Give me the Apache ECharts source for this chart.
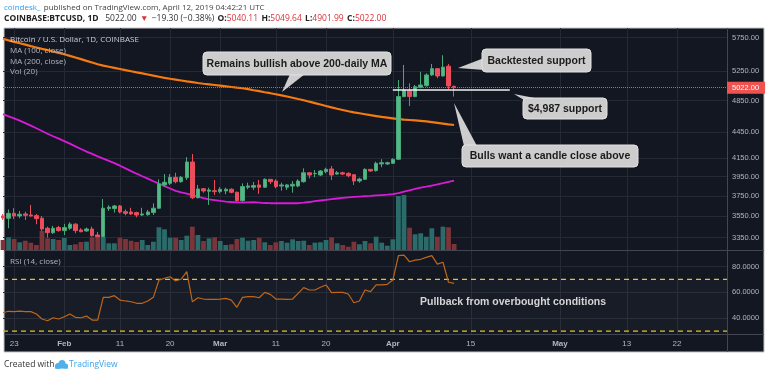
<!DOCTYPE html>
<html>
<head>
<meta charset="utf-8">
<script src="https://cdn.jsdelivr.net/npm/echarts@6/dist/echarts.min.js"></script>
<style>
html, body { margin: 0; padding: 0; background: #fff; }
#chart { width: 768px; height: 376px; }
</style>
</head>
<body>
<div id="chart"></div>
<script>
// daily candles, Jan 21 .. Apr 12 2019 (COINBASE:BTCUSD)
var firstDay = '2019-01-21';
var lastDay = '2019-05-31';
var opens = [3552, 3530, 3577, 3552, 3571, 3561, 3555, 3530, 3436, 3395, 3442, 3414, 3436, 3474, 3420, 3411, 3429, 3374, 3359, 3623,
    3623, 3649, 3593, 3590, 3584, 3561, 3564, 3584, 3627, 3862, 3879, 3942, 3896, 3938, 4109, 3731, 3823, 3797, 3803, 3793,
    3800, 3817, 3786, 3701, 3838, 3838, 3862, 3838, 3921, 3903, 3851, 3838, 3851, 3851, 3896, 3991, 3981, 3967, 4003, 4032,
    3977, 3991, 3985, 3970, 3903, 3921, 4028, 4014, 4087, 4087, 4094, 4139, 4902, 4981, 4902, 5026, 5049, 5197, 5286, 5183,
    5321, 5040.11];
var closes = [3533, 3577, 3552, 3568, 3558, 3552, 3526, 3429, 3395, 3436, 3414, 3442, 3474, 3414, 3404, 3429, 3368, 3359, 3627, 3637,
    3649, 3590, 3577, 3571, 3561, 3571, 3590, 3627, 3872, 3890, 3942, 3896, 3942, 4109, 3731, 3820, 3800, 3810, 3793, 3817,
    3817, 3786, 3701, 3845, 3851, 3855, 3838, 3921, 3896, 3845, 3862, 3862, 3869, 3903, 3991, 3967, 3985, 4010, 4028, 3967,
    3991, 3977, 3960, 3903, 3924, 4028, 4010, 4094, 4101, 4101, 4139, 4902, 4990, 4902, 5035, 5058, 5197, 5286, 5183, 5308,
    5045, 5022.00];
var lows = [3514, 3436, 3523, 3530, 3514, 3545, 3474, 3411, 3350, 3383, 3404, 3374, 3420, 3390, 3399, 3404, 3359, 3353, 3356, 3600,
    3584, 3577, 3558, 3561, 3539, 3552, 3555, 3561, 3620, 3844, 3862, 3879, 3886, 3914, 3718, 3725, 3782, 3659, 3759, 3776,
    3766, 3776, 3691, 3691, 3817, 3810, 3769, 3834, 3872, 3827, 3803, 3810, 3782, 3838, 3886, 3931, 3942, 3956, 3985, 3914,
    3970, 3967, 3942, 3862, 3886, 3914, 4003, 4003, 4051, 4076, 4087, 4131, 4894, 4778, 4894, 5013, 5035, 5183, 5152, 5174,
    5000, 4901.99];
var highs = [3571, 3615, 3627, 3600, 3593, 3659, 3571, 3552, 3451, 3458, 3458, 3477, 3492, 3483, 3436, 3442, 3451, 3402, 3718, 3656,
    3659, 3659, 3615, 3631, 3593, 3631, 3610, 3676, 3921, 3977, 3977, 3991, 3956, 4163, 4198, 3862, 3830, 3833, 3914, 3838,
    3833, 3827, 3793, 3879, 3886, 3893, 3914, 3931, 3924, 3921, 3886, 3872, 3903, 3921, 4039, 3995, 4021, 4021, 4046, 4065,
    4010, 4003, 3995, 3977, 3938, 4039, 4032, 4112, 4139, 4112, 4150, 5127, 5339, 5081, 5058, 5242, 5220, 5354, 5294, 5480,
    5354, 5049.64];
var volumes = [10000, 12700, 11000, 7700, 9300, 7300, 5000, 19000, 11700, 11000, 10000, 12000, 5000, 5700, 8000, 8300, 12700, 15000, 13000, 6700,
    6700, 12300, 11000, 9300, 8000, 10000, 5000, 8300, 22700, 20700, 12300, 12300, 10000, 14300, 23300, 15000, 9000, 11700, 12700, 9000,
    5000, 5700, 11000, 12300, 9300, 10000, 12300, 7700, 5000, 7700, 9000, 7300, 10700, 9000, 9300, 5000, 7300, 7700, 10000, 12700,
    6700, 5000, 3300, 8300, 5700, 9000, 6700, 13300, 7300, 4300, 10700, 54000, 55000, 22300, 15700, 16700, 13300, 21700, 13300, 23300,
    22700, 6000];
// MA (200, close) - orange
var ma200 = [5730, 5705, 5683, 5662, 5640, 5617, 5597, 5576, 5556, 5536, 5515, 5495, 5472, 5448, 5423, 5398, 5374, 5349, 5329, 5313,
    5297, 5281, 5264, 5249, 5233, 5218, 5203, 5187, 5172, 5157, 5144, 5132, 5120, 5108, 5097, 5085, 5075, 5067, 5058, 5049,
    5040, 5031, 5022, 5014, 5001, 4987, 4974, 4960, 4947, 4933, 4918, 4903, 4887, 4870, 4854, 4835, 4817, 4798, 4779, 4761,
    4744, 4728, 4712, 4698, 4686, 4674, 4662, 4651, 4640, 4631, 4622, 4613, 4607, 4602, 4597, 4592, 4584, 4575, 4566, 4557,
    4548, 4540];
// MA (100, close) - magenta
var ma100 = [4675, 4648, 4621, 4594, 4563, 4532, 4500, 4467, 4434, 4404, 4376, 4347, 4317, 4286, 4255, 4226, 4199, 4172, 4146, 4121,
    4096, 4068, 4038, 4009, 3981, 3954, 3928, 3901, 3875, 3850, 3825, 3801, 3786, 3772, 3758, 3743, 3728, 3715, 3707, 3699,
    3692, 3688, 3685, 3682, 3684, 3686, 3682, 3678, 3676, 3676, 3676, 3676, 3676, 3676, 3681, 3688, 3696, 3703, 3710, 3717,
    3723, 3729, 3734, 3739, 3743, 3747, 3750, 3754, 3758, 3762, 3767, 3778, 3792, 3806, 3820, 3833, 3844, 3856, 3867, 3880,
    3894, 3906];
// RSI (14, close)
var rsi = [44.2, 45.3, 45.1, 45.5, 45.0, 45.0, 43.2, 39.3, 38.0, 40.3, 39.3, 41.1, 43.2, 40.6, 40.3, 41.6, 38.5, 38.5, 56.1, 56.1,
    57.4, 54.0, 53.3, 52.7, 51.5, 51.5, 53.3, 56.1, 69.5, 70.9, 72.1, 68.8, 70.3, 76.0, 52.7, 55.8, 54.8, 54.6, 54.6, 54.8,
    55.3, 54.0, 48.4, 56.1, 56.6, 56.6, 55.8, 60.0, 58.4, 54.8, 54.8, 54.6, 54.8, 59.2, 63.6, 61.8, 61.8, 63.9, 65.7, 59.7,
    60.0, 60.0, 58.7, 51.9, 53.3, 61.8, 60.5, 65.7, 65.7, 66.2, 69.5, 88.4, 88.9, 83.7, 85.0, 85.6, 87.1, 88.4, 81.9, 83.3,
    67.8, 67.0];

var priceTicks = [5750, 5250, 4850, 4450, 4150, 3950, 3750, 3550, 3350];
var rsiTicks = [40, 60, 80];
var rsiBands = [70, 30];
var dateTicks = ['2019-01-23', '2019-02-01', '2019-02-11', '2019-02-20', '2019-03-01', '2019-03-11',
    '2019-03-20', '2019-04-01', '2019-04-15', '2019-05-01', '2019-05-13', '2019-05-22'];
var lastPrice = 5022.00;
var supportLevel = 4987;
var supportFrom = '2019-04-01', supportTo = '2019-04-22';

var monthNames = ['Jan', 'Feb', 'Mar', 'Apr', 'May', 'Jun', 'Jul', 'Aug', 'Sep', 'Oct', 'Nov', 'Dec'];
var dates = [];
(function () {
    var d = new Date(firstDay + 'T00:00:00Z');
    var end = new Date(lastDay + 'T00:00:00Z');
    while (d <= end) {
        dates.push(d.toISOString().slice(0, 10));
        d = new Date(d.getTime() + 86400000);
    }
})();

var candles = opens.map(function (o, i) {
    return [o, closes[i], lows[i], highs[i]];
});
var volData = volumes.map(function (v, i) {
    return {
        value: v,
        itemStyle: { color: closes[i] >= opens[i] ? '#2b6b6a' : '#7b3439' }
    };
});
// flat guide values for the RSI 70 / 30 levels, one per day
var bandHigh = dates.map(function () { return rsiBands[0]; });
var bandLow = dates.map(function () { return rsiBands[1]; });

function isTick(index, value) {
    return dateTicks.indexOf(value) >= 0;
}

var gridColor = '#252935';
var textColor = '#b2b5be';
var bandColor = '#e3c420';
var G = { left: 3, right: 41 };

function xAxisFor(gridIndex, withSplit, withLabel) {
    return {
        type: 'category',
        gridIndex: gridIndex,
        data: dates,
        boundaryGap: false,
        axisLine: { show: false },
        axisTick: { show: false },
        splitLine: { show: withSplit, interval: isTick, lineStyle: { color: gridColor, width: 1 } },
        axisLabel: {
            show: withLabel,
            interval: isTick,
            margin: 6,
            color: textColor,
            fontSize: 8,
            fontFamily: 'Liberation Sans',
            formatter: function (v) {
                var m = parseInt(v.slice(5, 7), 10) - 1;
                var d = parseInt(v.slice(8, 10), 10);
                return d === 1 ? '{b|' + monthNames[m] + '}' : String(d);
            },
            rich: { b: { fontWeight: 'bold', fontSize: 8, color: textColor, fontFamily: 'Liberation Sans' } }
        }
    };
}

function callout(box, tail, text) {
    return {
        type: 'group',
        z: 20,
        children: [
            { type: 'polygon', z: 20, shape: { points: tail }, style: { fill: '#cdcdcd' } },
            { type: 'rect', z: 20, shape: { x: box[0], y: box[1], width: box[2], height: box[3], r: 4 },
              style: { fill: '#cdcdcd', stroke: '#e2e2e2', lineWidth: 1 } },
            { type: 'text', z: 21, x: box[0] + box[2] / 2, y: box[1] + box[3] / 2 + 0.5,
              style: { text: text, align: 'center', verticalAlign: 'middle', fill: '#1b1b1b',
                       font: 'bold 10.5px "Liberation Sans"' } }
        ]
    };
}

function paneText(x, y, text, fill) {
    return { type: 'text', z: 20, x: x, y: y,
             style: { text: text, fill: fill, font: '8px "Open Sans"', verticalAlign: 'middle' } };
}

function bandSeries(name, data) {
    return {
        name: name, type: 'line', xAxisIndex: 2, yAxisIndex: 2, z: 2,
        data: data, symbol: 'none', silent: true,
        lineStyle: { color: bandColor, type: [5, 4], width: 1.2 }
    };
}

var chart = echarts.init(document.getElementById('chart'));

var option = {
    backgroundColor: '#ffffff',
    animation: false,
    grid: [
        { left: G.left, right: G.right, top: 28, height: 222 },
        { left: G.left, right: G.right, top: 28, height: 222 },
        { left: G.left, right: G.right, top: 250, height: 84 }
    ],
    xAxis: [xAxisFor(0, true, false), xAxisFor(1, false, false), xAxisFor(2, true, true)],
    yAxis: [
        {
            type: 'log', logBase: 10, gridIndex: 0, position: 'right',
            min: 3240, max: 5899,
            axisLine: { show: false },
            axisTick: { show: false, customValues: priceTicks },
            splitLine: { show: true, lineStyle: { color: gridColor } },
            axisLabel: {
                customValues: priceTicks, margin: 5, color: textColor, fontSize: 7.5,
                fontFamily: 'Liberation Sans',
                formatter: function (v) { return v.toFixed(2); }
            }
        },
        { type: 'value', gridIndex: 1, min: 0, max: 222000, show: false },
        {
            type: 'value', gridIndex: 2, position: 'right',
            min: 27.7, max: 92.8,
            axisLine: { show: false },
            axisTick: { show: false, customValues: rsiTicks },
            splitLine: { show: true, lineStyle: { color: gridColor } },
            axisLabel: {
                customValues: rsiTicks, margin: 5, color: textColor, fontSize: 7.5,
                fontFamily: 'Liberation Sans',
                formatter: function (v) { return v.toFixed(4); }
            }
        }
    ],
    series: [
        {
            name: 'Vol', type: 'bar', xAxisIndex: 1, yAxisIndex: 1, z: 1,
            barCategoryGap: '14%', data: volData
        },
        {
            name: 'MA (200, close)', type: 'line', xAxisIndex: 0, yAxisIndex: 0, z: 2,
            data: ma200, symbol: 'none',
            lineStyle: { color: '#f57a10', width: 2.2 }
        },
        {
            name: 'MA (100, close)', type: 'line', xAxisIndex: 0, yAxisIndex: 0, z: 2,
            data: ma100, symbol: 'none',
            lineStyle: { color: '#d91ad9', width: 1.8 }
        },
        {
            name: 'BTCUSD', type: 'candlestick', xAxisIndex: 0, yAxisIndex: 0, z: 3,
            barWidth: 4, data: candles,
            itemStyle: {
                color: '#53b987', color0: '#eb4d5c',
                borderColor: '#4aa878', borderColor0: '#eb4d5c', borderWidth: 1
            },
            markLine: {
                silent: true, symbol: 'none', animation: false,
                data: [
                    {
                        yAxis: lastPrice,
                        lineStyle: { color: '#ef5350', type: 'dotted', width: 1 },
                        label: {
                            show: true, position: 'end', distance: 0,
                            formatter: lastPrice.toFixed(2),
                            backgroundColor: '#ef5350', color: '#ffffff',
                            fontSize: 7.5, fontFamily: 'Liberation Sans',
                            padding: [2, 6, 2, 5]
                        }
                    },
                    [
                        { coord: [supportFrom, supportLevel], lineStyle: { color: '#f2f2f2', type: 'solid', width: 1.6 }, label: { show: false } },
                        { coord: [supportTo, supportLevel] }
                    ]
                ]
            }
        },
        {
            name: 'RSI', type: 'line', xAxisIndex: 2, yAxisIndex: 2, z: 3,
            data: rsi, symbol: 'none',
            lineStyle: { color: '#c0661a', width: 1.2 },
            markArea: {
                silent: true,
                itemStyle: { color: 'rgba(255,255,255,0.025)' },
                data: [[{ yAxis: rsiBands[1] }, { yAxis: rsiBands[0] }]]
            }
        },
        bandSeries('RSI 70', bandHigh),
        bandSeries('RSI 30', bandLow)
    ],
    graphic: [
        { type: 'rect', z: -1, shape: { x: 4, y: 28, width: 760, height: 324 },
          style: { fill: '#131722', stroke: '#c4c4c4', lineWidth: 1 } },
        { type: 'line', z: 5, shape: { x1: 4, y1: 250.5, x2: 764, y2: 250.5 }, style: { stroke: '#434651', lineWidth: 1 } },
        { type: 'line', z: 5, shape: { x1: 4, y1: 334.5, x2: 764, y2: 334.5 }, style: { stroke: '#434651', lineWidth: 1 } },
        { type: 'line', z: 5, shape: { x1: 727.5, y1: 28, x2: 727.5, y2: 352 }, style: { stroke: '#434651', lineWidth: 1 } },
        {
            type: 'text', x: 4, y: 8,
            style: {
                text: '{a|coindesk_} {b|published on TradingView.com, April 12, 2019 04:42:21 UTC}',
                verticalAlign: 'middle',
                rich: {
                    a: { fill: '#2d9bf0', font: '8px "Open Sans"' },
                    b: { fill: '#444444', font: '8px "Open Sans"' }
                }
            }
        },
        {
            type: 'text', x: 4, y: 19,
            style: {
                text: '{k|COINBASE:BTCUSD, 1D}  {n|5022.00} {r|▼} {n|\u221219.30 (\u22120.38%)} {k|O:}{r|5040.11} {k|H:}{r|5049.64} {k|L:}{r|4901.99} {k|C:}{r|5022.00}',
                verticalAlign: 'middle',
                rich: {
                    k: { fill: '#222222', font: 'bold 8.5px "Open Sans"' },
                    n: { fill: '#333333', font: '8.5px "Open Sans"' },
                    r: { fill: '#d8333a', font: '8.5px "Open Sans"' }
                }
            }
        },
        paneText(10, 39.5, 'Bitcoin / U.S. Dollar, 1D, COINBASE', '#c9ccd4'),
        paneText(10, 50.5, 'MA (100, close)', textColor),
        paneText(10, 61.5, 'MA (200, close)', textColor),
        paneText(10, 71.5, 'Vol (20)', textColor),
        paneText(10, 262, 'RSI (14, close)', textColor),
        callout([203, 52, 188, 23], [[290, 74], [305, 74], [282, 92]], 'Remains bullish above 200-daily MA'),
        callout([482, 49, 109, 23], [[484, 58], [484, 70], [458, 68]], 'Backtested support'),
        callout([523, 98, 84, 21], [[524, 100], [540, 99], [514, 94]], '$4,987 support'),
        callout([462, 145, 176, 22], [[464, 146], [477, 146], [454, 103]], 'Bulls want a candle close above'),
        { type: 'text', x: 420, y: 302, z: 20,
          style: { text: 'Pullback from overbought conditions', fill: '#d4d4d4', font: 'bold 10.5px "Liberation Sans"', verticalAlign: 'middle' } },
        { type: 'text', x: 4, y: 365, style: { text: 'Created with', fill: '#333333', font: '8.5px "Open Sans"', verticalAlign: 'middle' } },
        { type: 'circle', shape: { cx: 58, cy: 366, r: 3 }, style: { fill: '#4fb0ea' } },
        { type: 'circle', shape: { cx: 62, cy: 363.5, r: 3.5 }, style: { fill: '#4fb0ea' } },
        { type: 'circle', shape: { cx: 65.5, cy: 366, r: 2.6 }, style: { fill: '#4fb0ea' } },
        { type: 'rect', shape: { x: 55, y: 366, width: 13, height: 2.6 }, style: { fill: '#4fb0ea' } },
        { type: 'text', x: 69, y: 365, style: { text: 'TradingView', fill: '#3aa3ee', font: '8.5px "Open Sans"', verticalAlign: 'middle' } }
    ]
};

chart.setOption(option);
</script>
</body>
</html>
